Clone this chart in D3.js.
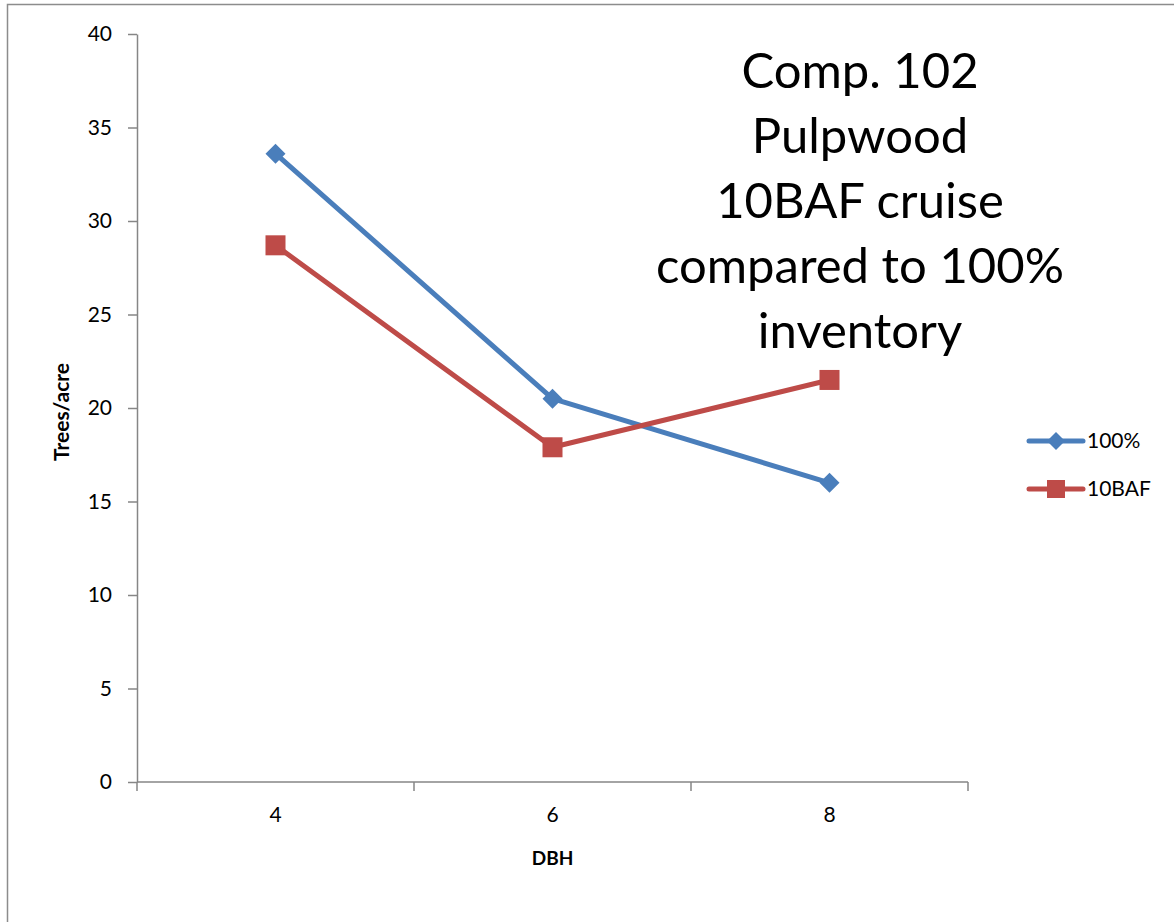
<!DOCTYPE html>
<html><head><meta charset="utf-8">
<script src="https://cdn.jsdelivr.net/npm/d3@7"></script>
<style>body{margin:0;background:#fff;}svg{display:block;font-family:Lato,"Open Sans",sans-serif;}</style>
</head><body>
<svg id="c" width="1174" height="922"></svg>
<script>
const categories = ["4", "6", "8"];
const seriesNames = ["100%", "10BAF"];
const values100 = [33.6, 20.5, 16.0];
const values10BAF = [28.7, 17.9, 21.5];
const yTicks = [0, 5, 10, 15, 20, 25, 30, 35, 40];
const titleLines = ["Comp. 102", "Pulpwood", "10BAF cruise", "compared to 100%", "inventory"];

const svg = d3.select("#c");
const W = 1174, H = 922;
const pL = 137, pR = 968, pT = 34, pB = 782;
const axisColor = "#868686";
const colors = ["#4A7EBB", "#BE4B48"];
const fs = 21;

// outer frame
svg.append("path").attr("d", `M7.5,${H} L7.5,4.5 L${W},4.5`).attr("fill","none").attr("stroke","#8c8c8c").attr("stroke-width",1.5);

const x = d3.scaleBand().domain(categories).range([pL, pR]).paddingInner(0).paddingOuter(0);
const y = d3.scaleLinear().domain([0, 40]).range([pB, pT]);

// y axis
const yAxis = svg.append("g").attr("transform", `translate(${pL},0)`)
  .call(d3.axisLeft(y).tickValues(yTicks).tickSize(9).tickPadding(16).tickSizeOuter(0));
yAxis.select(".domain").attr("stroke", axisColor).attr("stroke-width", 1.5);
yAxis.selectAll(".tick line").attr("stroke", axisColor).attr("stroke-width", 1.5);
yAxis.selectAll(".tick text").attr("font-size", fs).attr("fill", "#000").attr("font-family","Lato");

// x axis
const xAxis = svg.append("g").attr("transform", `translate(0,${pB})`)
  .call(d3.axisBottom(x).tickSize(0).tickPadding(25));
xAxis.select(".domain").attr("stroke", axisColor).attr("stroke-width", 1.5).attr("d", `M${pL},0H${pR}`);
xAxis.selectAll(".tick text").attr("font-size", fs).attr("fill", "#000").attr("font-family","Lato");
// category boundary ticks
const bounds = categories.map(c => x(c)).concat([pR]);
xAxis.selectAll(".bt").data(bounds).enter().append("line")
  .attr("x1", d => d).attr("x2", d => d).attr("y1", 0).attr("y2", 9)
  .attr("stroke", axisColor).attr("stroke-width", 1.5);

// axis titles
svg.append("text").attr("x", x("6") + x.bandwidth()/2).attr("y", 865).attr("text-anchor","middle")
  .attr("font-size", 19).attr("font-weight","bold").text("DBH");
svg.append("text").attr("transform", `translate(69,412) rotate(-90)`).attr("text-anchor","middle")
  .attr("font-size", 21).attr("font-weight","bold").text("Trees/acre");

// lines
const cx = c => x(c) + x.bandwidth()/2;
const line = d3.line().x((d,i) => cx(categories[i])).y(d => y(d));
const allSeries = [values100, values10BAF];
allSeries.forEach((vals, si) => {
  svg.append("path").datum(vals).attr("d", line).attr("fill","none")
    .attr("stroke", colors[si]).attr("stroke-width", 5).attr("stroke-linejoin","round");
});
// markers
const diamond = (px, py, s) => `M${px},${py-s}L${px+s},${py}L${px},${py+s}L${px-s},${py}Z`;
svg.selectAll(".m0").data(values100).enter().append("path")
  .attr("d", (d,i) => diamond(cx(categories[i]), y(d), 10)).attr("fill", colors[0]);
svg.selectAll(".m1").data(values10BAF).enter().append("rect")
  .attr("x", (d,i) => cx(categories[i]) - 10).attr("y", d => y(d) - 10)
  .attr("width", 20).attr("height", 20).attr("fill", colors[1]);

// legend
const legY = [441, 489];
seriesNames.forEach((n, i) => {
  const g = svg.append("g");
  g.append("line").attr("x1", 1029).attr("x2", 1083).attr("y1", legY[i]).attr("y2", legY[i])
    .attr("stroke", colors[i]).attr("stroke-width", 5).attr("stroke-linecap","round");
  if (i === 0) g.append("path").attr("d", diamond(1056, legY[i], 9)).attr("fill", colors[0]);
  else g.append("rect").attr("x", 1047).attr("y", legY[i]-9).attr("width", 18).attr("height", 18).attr("fill", colors[1]);
  g.append("text").attr("x", 1087).attr("y", legY[i] + 7).attr("font-size", fs).text(n);
});

// title
const tl = svg.append("text").attr("text-anchor","middle").attr("font-size", 49).attr("fill","#000");
titleLines.forEach((t, i) => {
  tl.append("tspan").attr("x", 860).attr("y", 88 + i*65).text(t);
});
</script>
</body></html>
